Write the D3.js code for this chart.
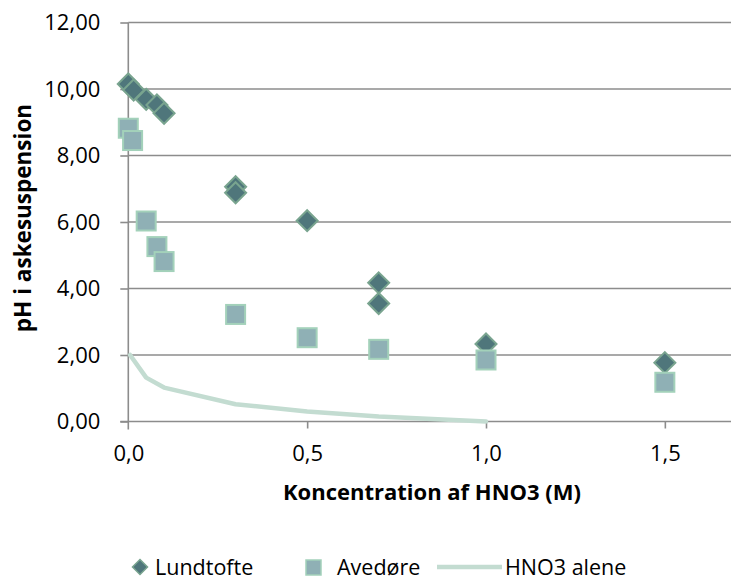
<!DOCTYPE html>
<html>
<head>
<meta charset="utf-8">
<script src="https://cdn.jsdelivr.net/npm/d3@7/dist/d3.min.js"></script>
<style>
  html, body { margin: 0; padding: 0; background: #fff; }
  svg { display: block; }
  text { font-family: "Open Sans", "Noto Sans", sans-serif; fill: #000; }
</style>
</head>
<body>
<svg id="chart" width="731" height="581"></svg>
<script>
// pH of the ash suspension after adding nitric acid
const lundtofteX = [0, 0.015, 0.05, 0.08, 0.1, 0.3, 0.3, 0.5, 0.7, 0.7, 1.0, 1.5];
const lundtofteY = [10.15, 9.97, 9.69, 9.52, 9.27, 7.06, 6.88, 6.04, 4.17, 3.55, 2.33, 1.77];

const avedoreX = [0, 0.012, 0.05, 0.08, 0.1, 0.3, 0.5, 0.7, 1.0, 1.5];
const avedoreY = [8.82, 8.45, 6.03, 5.26, 4.81, 3.22, 2.52, 2.17, 1.85, 1.18];

const hno3X = [0.005, 0.05, 0.1, 0.3, 0.5, 0.7, 1.0];
const hno3Y = [2.0, 1.32, 1.02, 0.52, 0.3, 0.15, 0.0];

const xTicks = [0, 0.5, 1.0, 1.5];
const yTicks = [0, 2, 4, 6, 8, 10, 12];

const seriesNames = ["Lundtofte", "Avedøre", "HNO3 alene"];
const xTitle = "Koncentration af HNO3 (M)";
const yTitle = "pH i askesuspension";

const colors = {
  diamondFill: "#4f767b", diamondStroke: "#79a48f",
  squareFill: "#8fb0b5", squareStroke: "#a3d1ba",
  line: "#c3dcd1", grid: "#8c8c8c"
};

const svg = d3.select("#chart");
const x = d3.scaleLinear().domain([0, 1.7]).range([128.3, 128.3 + 1.7 * 357.7]);
const y = d3.scaleLinear().domain([0, 12]).range([421.5, 22.5]);
const fmtY = v => d3.format(".2f")(v).replace(".", ",");
const fmtX = v => d3.format(".1f")(v).replace(".", ",");

// horizontal gridlines
svg.append("g").selectAll("line").data(yTicks.filter(d => d > 0)).join("line")
  .attr("x1", x(0)).attr("x2", 731)
  .attr("y1", d => y(d)).attr("y2", d => y(d))
  .attr("stroke", colors.grid).attr("stroke-width", 1.6);

// y axis
const yAxis = svg.append("g").attr("transform", `translate(${x(0)},0)`)
  .call(d3.axisLeft(y).tickValues(yTicks).tickFormat(fmtY).tickSize(8).tickPadding(20));
yAxis.select(".domain").attr("stroke", colors.grid).attr("stroke-width", 1.6)
  .attr("d", `M0,${y(12)}V${y(0) + 8}`);
yAxis.selectAll(".tick line").attr("stroke", colors.grid).attr("stroke-width", 1.6);
yAxis.selectAll(".tick text").style("font-size", "22px").attr("fill", "#000");

// x axis
const xAxis = svg.append("g").attr("transform", `translate(0,${y(0)})`)
  .call(d3.axisBottom(x).tickValues(xTicks).tickFormat(fmtX).tickSize(7).tickPadding(17));
xAxis.select(".domain").attr("stroke", colors.grid).attr("stroke-width", 1.6)
  .attr("d", `M${x(0) - 8},0H731`);
xAxis.selectAll(".tick line").attr("stroke", colors.grid).attr("stroke-width", 1.6)
  .attr("display", d => d === 0 ? "none" : null);
xAxis.selectAll(".tick text").style("font-size", "22px").attr("fill", "#000");

// axis titles
svg.append("text").attr("x", 432).attr("y", 500).attr("text-anchor", "middle")
  .style("font-size", "22px").style("font-weight", "bold").text(xTitle);
svg.append("text").attr("transform", "translate(31,218) rotate(-90)").attr("text-anchor", "middle")
  .style("font-size", "22.5px").style("font-weight", "bold").text(yTitle);

const diamond = r => `M0,${-r}L${r},0L0,${r}L${-r},0Z`;

// Lundtofte (diamonds)
svg.append("g").selectAll("path").data(lundtofteX.map((d, i) => [d, lundtofteY[i]])).join("path")
  .attr("d", diamond(10.5))
  .attr("transform", d => `translate(${x(d[0])},${y(d[1])})`)
  .attr("fill", colors.diamondFill).attr("stroke", colors.diamondStroke).attr("stroke-width", 2);

// Avedøre (squares)
svg.append("g").selectAll("rect").data(avedoreX.map((d, i) => [d, avedoreY[i]])).join("rect")
  .attr("x", d => x(d[0]) - 9.5).attr("y", d => y(d[1]) - 9.5)
  .attr("width", 19).attr("height", 19)
  .attr("fill", colors.squareFill).attr("stroke", colors.squareStroke).attr("stroke-width", 2);

// HNO3 alone
svg.append("path").datum(hno3X.map((d, i) => [d, hno3Y[i]]))
  .attr("d", d3.line().x(d => x(d[0])).y(d => y(d[1])))
  .attr("fill", "none").attr("stroke", colors.line).attr("stroke-width", 4.5)
  .attr("stroke-linejoin", "round").attr("stroke-linecap", "round");

// legend
const lg = svg.append("g").style("font-size", "21.5px");
lg.append("path").attr("d", diamond(7.5)).attr("transform", "translate(140,567)")
  .attr("fill", colors.diamondFill).attr("stroke", colors.diamondStroke).attr("stroke-width", 1.5);
lg.append("text").attr("x", 155).attr("y", 575).text(seriesNames[0]);
lg.append("rect").attr("x", 306).attr("y", 560).attr("width", 15).attr("height", 15)
  .attr("fill", colors.squareFill).attr("stroke", colors.squareStroke).attr("stroke-width", 1.5);
lg.append("text").attr("x", 337).attr("y", 575).text(seriesNames[1]);
lg.append("line").attr("x1", 437).attr("x2", 502).attr("y1", 567).attr("y2", 567)
  .attr("stroke", colors.line).attr("stroke-width", 4.5);
lg.append("text").attr("x", 505).attr("y", 575).text(seriesNames[2]);
</script>
</body>
</html>
